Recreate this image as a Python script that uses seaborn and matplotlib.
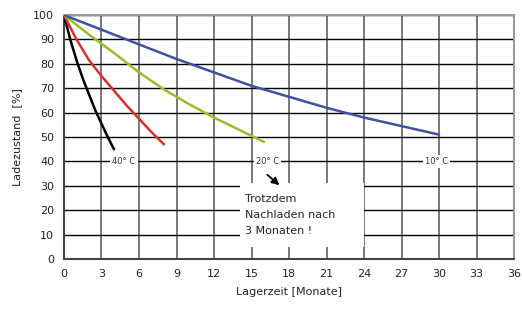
import matplotlib
matplotlib.use("Agg")
import matplotlib.pyplot as plt
import seaborn as sns
import pandas as pd

# Daten
x_40 = [0, 0.5, 1, 1.5, 2, 2.5, 3, 3.5, 4]
y_40 = [100, 90, 81.5, 74, 67.5, 61, 55.5, 50, 45]
x_30 = [0, 1, 2, 3, 4, 5, 6, 7, 8]
y_30 = [100, 90, 81.5, 75, 69, 63, 57.5, 52, 47]
x_20 = [0, 2, 4, 6, 8, 10, 12, 14, 16]
y_20 = [100, 92, 84.5, 76.5, 69.5, 63.5, 58, 53, 48]
x_10 = [0, 3, 6, 9, 12, 15, 18, 21, 24, 27, 30]
y_10 = [100, 94, 88, 82, 76.5, 71, 66.5, 62, 58, 54.5, 51]

series_names = ["40", "30", "20", "10"]
series_colors = ["#000000", "#d7312c", "#9bbd2b", "#3f51a1"]

temp_labels = ["40° C", "20° C", "10° C"]
temp_label_x = [4.8, 16.3, 29.8]
temp_label_y = [40, 40, 40]

x_ticks = list(range(0, 37, 3))
y_ticks = list(range(0, 101, 10))

note_text = "Trotzdem\nNachladen nach\n3 Monaten !"

frames = []
for name, xs, ys in zip(series_names, [x_40, x_30, x_20, x_10], [y_40, y_30, y_20, y_10]):
    frames.append(pd.DataFrame({"monate": xs, "ladung": ys, "temp": name}))
df = pd.concat(frames, ignore_index=True)

sns.set_style("white")
plt.rcParams["font.family"] = ["DejaVu Sans"]

fig = plt.figure(figsize=(5.22, 3.14), dpi=100)
ax = fig.add_axes([0.1226, 0.175, 0.8621, 0.777])

# Gitter
for xv in x_ticks:
    ax.axvline(xv, color="#555555", lw=1.1, zorder=1)
for yv in y_ticks:
    ax.axhline(yv, color="#000000", lw=1.0, zorder=1)

sns.lineplot(data=df, x="monate", y="ladung", hue="temp", palette=series_colors,
             hue_order=series_names, estimator=None, sort=False, lw=1.8,
             legend=False, ax=ax, zorder=4)

ax.set_xlim(0, 36)
ax.set_ylim(0, 100)
ax.set_xticks(x_ticks)
ax.set_yticks(y_ticks)
ax.tick_params(axis="both", labelsize=8, labelcolor="#222222", color="#444444",
               direction="inout", length=6, width=1.1, pad=4)
ax.tick_params(axis="x", top=False)
ax.tick_params(axis="y", right=False)

for side in ["left", "bottom"]:
    ax.spines[side].set_color("#444444")
    ax.spines[side].set_linewidth(1.5)
for side in ["top", "right"]:
    ax.spines[side].set_color("#999999")
    ax.spines[side].set_linewidth(1.5)

ax.set_xlabel("Lagerzeit [Monate]", fontsize=8, color="#222222", labelpad=6)
ax.set_ylabel("Ladezustand  [%]", fontsize=8, color="#222222", labelpad=8)

# Temperatur-Beschriftungen
for t, tx, ty in zip(temp_labels, temp_label_x, temp_label_y):
    ax.text(tx, ty, t, fontsize=6, color="#333333", ha="center", va="center",
            bbox=dict(facecolor="white", edgecolor="none", pad=1.5), zorder=5)

# Hinweisbox
ax.add_patch(plt.Rectangle((14.1, 4.9), 9.9, 26.1, facecolor="white",
                           edgecolor="none", zorder=3))
ax.text(14.5, 26.8, note_text, fontsize=8, color="#222222", ha="left", va="top",
        linespacing=1.75, zorder=5)
ax.annotate("", xy=(17.4, 29.5), xytext=(16.1, 35.3),
            arrowprops=dict(arrowstyle="-|>", color="black", lw=1.3,
                            mutation_scale=11), zorder=5)

fig.savefig("out.png", dpi=100)
